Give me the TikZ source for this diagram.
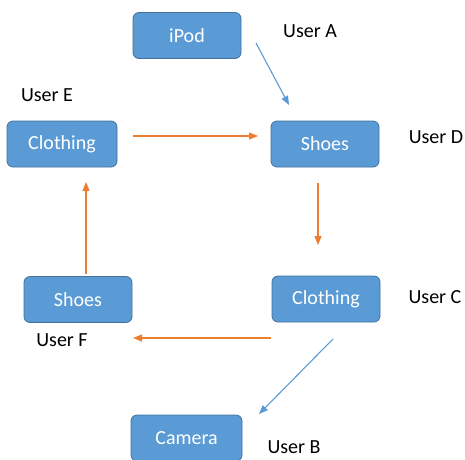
\documentclass[tikz,border=0pt]{standalone}
\usepackage{fontspec}
\setmainfont{Carlito}
\usetikzlibrary{arrows.meta}
\definecolor{boxfill}{HTML}{5B9BD5}
\definecolor{boxline}{HTML}{41719C}
\definecolor{flowblue}{HTML}{5B9BD5}
\definecolor{floworange}{HTML}{ED7D31}
\tikzset{
  item/.style={draw=boxline, line width=0.8pt, fill=boxfill, rounded corners=6pt,
    minimum width=108pt, minimum height=46pt, text=white, font=\fontsize{20}{24}\selectfont, inner sep=0pt},
  user/.style={font=\fontsize{20}{24}\selectfont, text=black, inner sep=0pt},
  blueflow/.style={draw=flowblue, line width=1.1pt, -{Triangle[length=9pt,width=7pt]}},
  orangeflow/.style={draw=floworange, line width=1.1pt, -{Triangle[length=9pt,width=7pt]}},
}
\begin{document}
\begin{tikzpicture}[x=1pt,y=-1pt]
\useasboundingbox (0,0) rectangle (465,459);
\begin{scope}
\clip (0,0) rectangle (465,459);
\node[item] (ipod) at (187,35.5) {\raisebox{-2pt}{iPod}};
\node[item, minimum width=110pt] (clothE) at (62,144) {\raisebox{-2pt}{Clothing}};
\node[item] (shoesD) at (325,144) {\raisebox{-2pt}{Shoes}};
\node[item] (shoesF) at (78,299.5) {\raisebox{-2pt}{Shoes}};
\node[item] (clothC) at (326,299) {\raisebox{-2pt}{Clothing}};
\node[item, minimum width=111pt] (camera) at (186.5,438) {\raisebox{-2pt}{Camera}};
\end{scope}

\node[user] (ua) at (310,31) {User A};
\node[user] (ue) at (47,95) {User E};
\node[user] (ud) at (436,137) {User D};
\node[user] (uc) at (435,297) {User C};
\node[user] (uf) at (62,340) {User F};
\node[user] (ub) at (294,447) {User B};

% connector end points around the boxes
\coordinate (a1) at (256,43);  \coordinate (a2) at (289,105);
\coordinate (b1) at (133,136); \coordinate (b2) at (258,136);
\coordinate (c1) at (318,183); \coordinate (c2) at (318,245);
\coordinate (d1) at (86,274);  \coordinate (d2) at (86,182);
\coordinate (e1) at (271,338); \coordinate (e2) at (133,338);
\coordinate (f1) at (333,339); \coordinate (f2) at (259,414);

\draw[blueflow] (a1) -- (a2);
\draw[orangeflow] (b1) -- (b2);
\draw[orangeflow] (c1) -- (c2);
\draw[orangeflow] (d1) -- (d2);
\draw[orangeflow] (e1) -- (e2);
\draw[blueflow] (f1) -- (f2);
\end{tikzpicture}
\end{document}
